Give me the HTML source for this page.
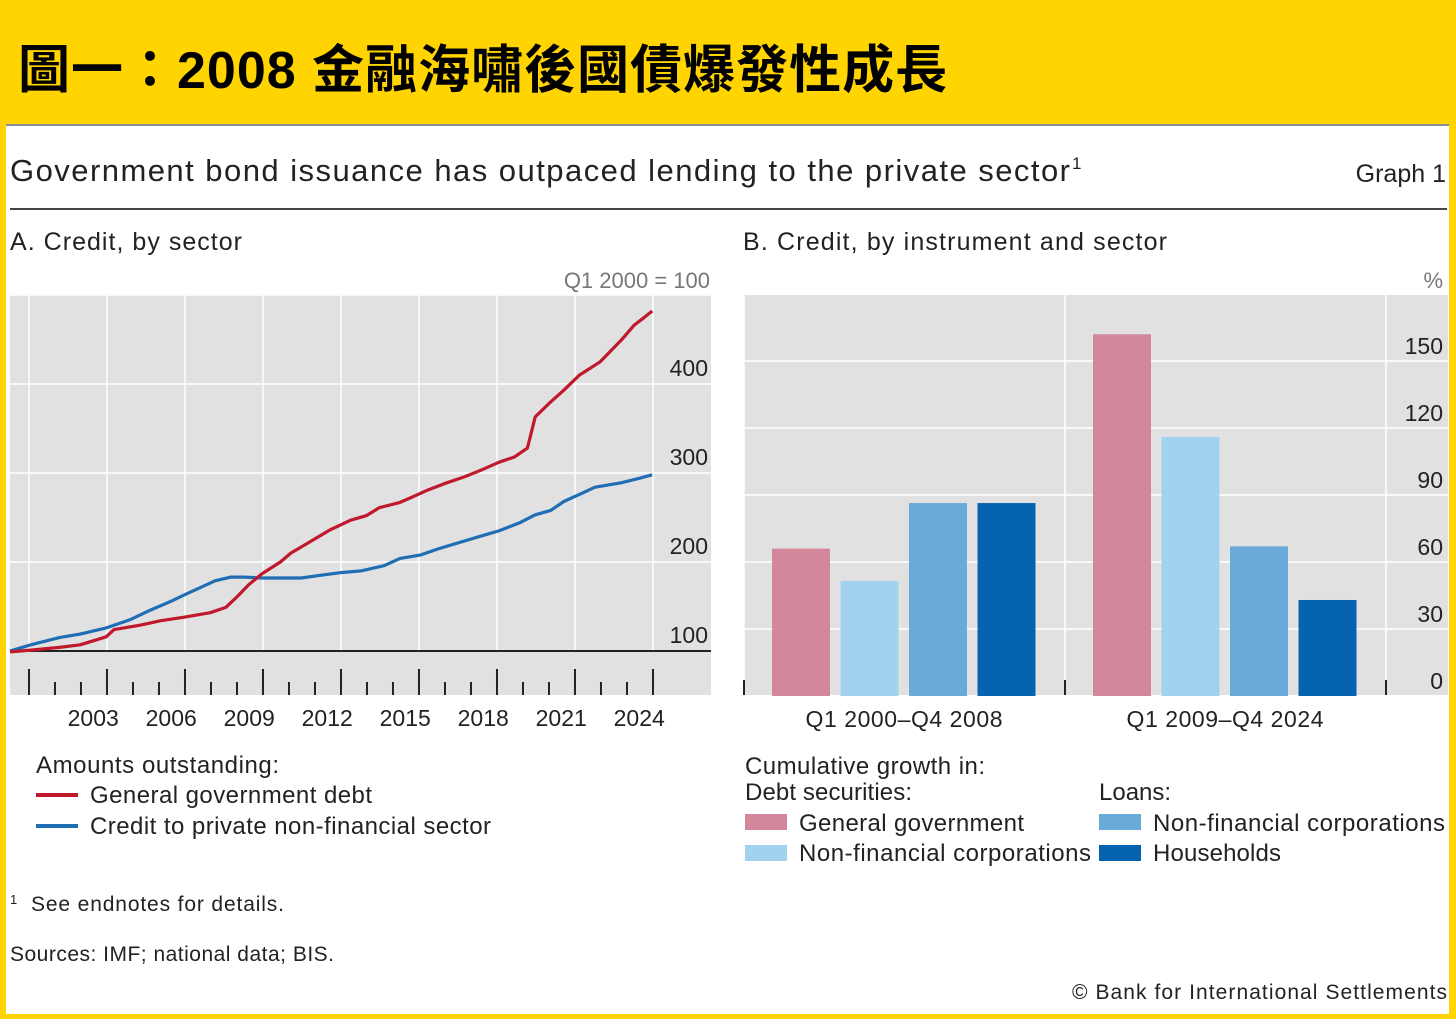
<!DOCTYPE html>
<html><head><meta charset="utf-8">
<style>
body{margin:0;width:1456px;height:1019px;background:#FFD400;overflow:hidden;font-family:"Liberation Sans","Noto Sans CJK TC",sans-serif;}
#panel{position:absolute;left:6px;top:124px;width:1443px;height:888px;background:#fff;border-top:2px solid #8a8f9a;}
h1{position:absolute;left:18px;top:28px;margin:0;font-size:52px;font-weight:bold;color:#000;font-family:"Liberation Sans","Noto Sans CJK TC",sans-serif;letter-spacing:1px;}
svg text{font-family:"Liberation Sans","DejaVu Sans",sans-serif;fill:#222;}
</style></head><body>
<h1>圖一：2008 金融海嘯後國債爆發性成長</h1>
<div id="panel"></div>
<svg id="c" width="1456" height="1019" style="position:absolute;left:0;top:0">
<text x="10" y="181" font-size="31" textLength="1060" lengthAdjust="spacing">Government bond issuance has outpaced lending to the private sector</text>
<text x="1072" y="169" font-size="17">1</text>
<text x="1446" y="182" font-size="25" text-anchor="end">Graph 1</text>
<line x1="10" y1="209" x2="1447" y2="209" stroke="#444" stroke-width="2"/>
<text x="10" y="250" font-size="25" textLength="232">A. Credit, by sector</text>
<text x="743" y="250" font-size="25" textLength="424">B. Credit, by instrument and sector</text>
<text x="710" y="288" font-size="22" style="fill:#777" text-anchor="end">Q1 2000 = 100</text>
<text x="1443" y="288" font-size="22" style="fill:#777" text-anchor="end">%</text>
<rect x="10" y="295" width="701" height="400" fill="#e1e1e1"/>
<rect x="744" y="295" width="704" height="400" fill="#e1e1e1"/>
<g id="ga"></g><g id="gb"></g>
<g>
<text x="36" y="773" font-size="24" textLength="243">Amounts outstanding:</text>
<line x1="36" y1="795" x2="78" y2="795" stroke="#c0192c" stroke-width="4"/>
<text x="90" y="803" font-size="24" textLength="282">General government debt</text>
<line x1="36" y1="826" x2="78" y2="826" stroke="#1f6db3" stroke-width="4"/>
<text x="90" y="834" font-size="24" textLength="401">Credit to private non-financial sector</text>
</g>
<g>
<text x="745" y="774" font-size="24" textLength="240">Cumulative growth in:</text>
<text x="745" y="800" font-size="24" textLength="167">Debt securities:</text>
<text x="1099" y="800" font-size="24">Loans:</text>
<rect x="745" y="814" width="42" height="16" fill="#d2879b"/>
<text x="799" y="831" font-size="24" textLength="225">General government</text>
<rect x="745" y="845" width="42" height="16" fill="#a3d2ee"/>
<text x="799" y="861" font-size="24" textLength="292">Non-financial corporations</text>
<rect x="1099" y="814" width="42" height="16" fill="#6aaad9"/>
<text x="1153" y="831" font-size="24" textLength="292">Non-financial corporations</text>
<rect x="1099" y="845" width="42" height="16" fill="#0563b0"/>
<text x="1153" y="861" font-size="24" textLength="128">Households</text>
</g>
<text x="10" y="904" font-size="13">1</text>
<text x="31" y="911" font-size="21" textLength="253">See endnotes for details.</text>
<text x="10" y="961" font-size="21" textLength="324">Sources: IMF; national data; BIS.</text>
<text x="1072" y="999" font-size="21" textLength="375">© Bank for International Settlements</text>
</svg>
<script>
const redYears=[2000.0,2000.8,2001.9,2002.7,2003.7,2004.0,2005.0,2005.8,2006.7,2007.7,2008.3,2008.7,2009.2,2009.7,2010.4,2010.8,2011.5,2012.3,2013.1,2013.7,2014.2,2015.0,2015.4,2016.0,2016.7,2017.5,2018.1,2018.8,2019.4,2019.9,2020.2,2020.8,2021.3,2021.9,2022.7,2023.5,2024.0,2024.4,2024.7];
const redValues=[99,101,104,107,116,124,129,134,138,143,149,160,175,187,200,210,222,236,247,252,261,267,272,280,288,296,303,312,318,328,363,380,393,410,425,449,466,475,482];
const blueYears=[2000.0,2000.8,2001.9,2002.7,2003.7,2004.6,2005.4,2006.2,2006.7,2007.3,2007.9,2008.5,2009.0,2009.7,2011.2,2011.9,2012.7,2013.5,2014.4,2015.0,2015.8,2016.5,2017.3,2018.1,2018.8,2019.6,2020.2,2020.8,2021.3,2021.9,2022.5,2023.5,2024.2,2024.7];
const blueValues=[100,107,115,119,126,135,146,156,163,171,179,183,183,182,182,185,188,190,196,204,208,215,222,229,235,244,253,258,268,276,284,289,294,298];
const yTicksA=[100,200,300,400];
const xLabelsA=[2003,2006,2009,2012,2015,2018,2021,2024];
const groupsB=["Q1 2000–Q4 2008","Q1 2009–Q4 2024"];
const seriesGov=[66,162];
const seriesNfcDebt=[51.5,116];
const seriesNfcLoans=[86.4,67];
const seriesHouseholds=[86.4,43];
const yTicksB=[0,30,60,90,120,150];
const NS="http://www.w3.org/2000/svg";
function mk(p,t,a){const e=document.createElementNS(NS,t);for(const k in a)e.setAttribute(k,a[k]);p.appendChild(e);return e;}
const xA=y=>10+(y-2000)*26;
const yA=v=>651-(v-100)*0.89;
const ga=document.getElementById('ga');
for(let k=0;k<9;k++){const x=xA(2000.73+3*k);
 const g=mk(ga,'line',{x1:x,y1:295,x2:x,y2:651,stroke:'#fff','stroke-width':1.5});
 
 }
for(const v of [200,300,400,500]){const l=mk(ga,'line',{x1:10,y1:yA(v),x2:711,y2:yA(v),stroke:'#fff','stroke-width':1.5});
 
 }
for(let k=0;k<25;k++){const x=xA(2000.73+k);const major=k%3===0;
 const t=mk(ga,'line',{x1:x,y1:major?669:682,x2:x,y2:695,stroke:'#222','stroke-width':2});
 
 }
for(const y of xLabelsA){const t=mk(ga,'text',{x:xA(y+0.2),y:726,'font-size':23,'text-anchor':'middle'});t.textContent=y;
 
 }
for(const v of yTicksA){const t=mk(ga,'text',{x:708,y:yA(v)-8,'font-size':23,'text-anchor':'end'});t.textContent=v;
 
 }
const base=mk(ga,'line',{x1:10,y1:yA(100),x2:711,y2:yA(100),stroke:'#222','stroke-width':2});


function line(xs,vs,col,name){const d=xs.map((y,i)=>(i?'L':'M')+xA(y).toFixed(1)+','+yA(vs[i]).toFixed(1)).join('');
 const p=mk(ga,'path',{d:d,fill:'none',stroke:col,'stroke-width':3.2,'stroke-linejoin':'round'});
 
 }
line(blueYears,blueValues,'#1f6db3','line-private-credit');
line(redYears,redValues,'#c0192c','line-government-debt');
const gb=document.getElementById('gb');
const yB=v=>696-v*2.233;
for(const v of yTicksB){ if(v>0){const l=mk(gb,'line',{x1:744,y1:yB(v),x2:1448,y2:yB(v),stroke:'#fff','stroke-width':1.5});
 
 }
 const t=mk(gb,'text',{x:1443,y:yB(v)-7,'font-size':23,'text-anchor':'end'});t.textContent=v;
 
 }
for(const x of [744,1065,1386]){const l=mk(gb,'line',{x1:x,y1:295,x2:x,y2:680,stroke:'#fff','stroke-width':1.5});
 
 
 const t=mk(gb,'line',{x1:x,y1:680,x2:x,y2:695,stroke:'#222','stroke-width':2});
 
 }
const series=[[seriesGov,'#d2879b','bar-debt-gov'],[seriesNfcDebt,'#a3d2ee','bar-debt-nfc'],[seriesNfcLoans,'#6aaad9','bar-loans-nfc'],[seriesHouseholds,'#0563b0','bar-loans-households']];
groupsB.forEach((g,gi)=>{const x0=744+gi*321;
 series.forEach((s,si)=>{const v=s[0][gi];const x=x0+28+si*68.5;
  const r=mk(gb,'rect',{x:x,y:yB(v),width:58,height:696-yB(v),fill:s[1]});
  
  });
 const t=mk(gb,'text',{x:x0+160,y:727,'font-size':23,'text-anchor':'middle',textLength:197});t.textContent=g;
 
 });
</script>
</body></html>
